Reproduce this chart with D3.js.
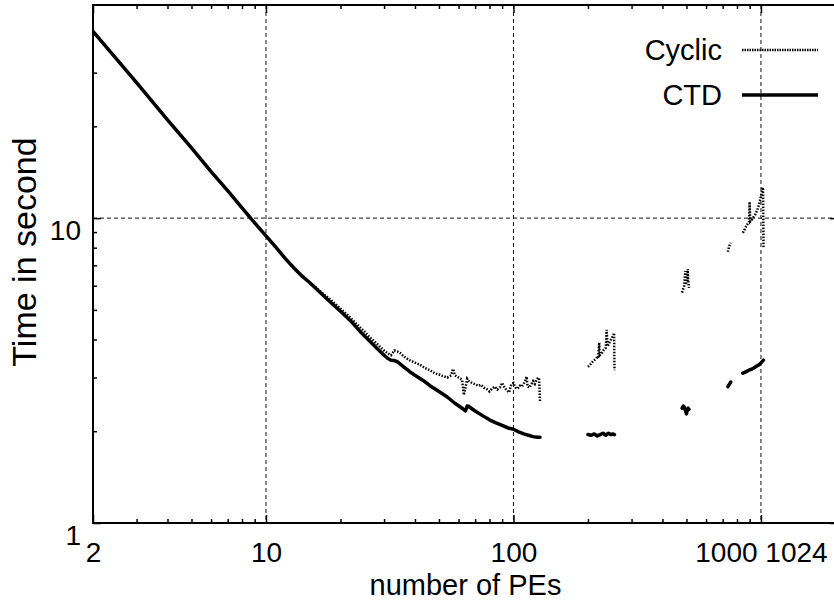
<!DOCTYPE html>
<html>
<head>
<meta charset="utf-8">
<script src="https://cdn.jsdelivr.net/npm/d3@7"></script>
<style>
  html, body { margin: 0; padding: 0; background: #fff; }
  svg { display: block; }
  text { font-family: "Liberation Sans", Arial, sans-serif; fill: #000; }
</style>
</head>
<body>
<svg id="chart" width="834" height="605"></svg>
<script>
// ---------- data ----------
const xMajorTicks = [2, 10, 100, 1000];
const xTickLabels = ["2", "10", "100", "1000 1024"];
const xMinorTicks = [3,4,5,6,7,8,9,20,30,40,50,60,70,80,90,200,300,400,500,600,700,800,900];
const yMajorTicks = [1, 10];
const yTickLabels = ["1", "10"];
const yMinorTicks = [2,3,4,5,6,7,8,9,20,30,40];
const seriesNames = ["Cyclic", "CTD"];

const ctdRuns = [
  [[2,41],[3,27.8],[4,21.0],[5,17.0],[6,14.2],[7,12.3],[8,10.8],[9,9.65],[10,8.75],[11,8.0],
   [12,7.35],[13,6.85],[14,6.45],[15,6.15],[16,5.85],[18,5.35],[20,4.95],[22,4.6],[24,4.25],
   [26,3.98],[28,3.75],[30,3.55],[31,3.47],[32,3.42],[33,3.41],[34,3.38],[36,3.25],[38,3.14],
   [40,3.05],[43,2.94],[46,2.82],[50,2.70],[54,2.59],[58,2.47],[62,2.38],[64,2.33],[65,2.42],
   [66,2.41],[70,2.33],[75,2.25],[80,2.18],[85,2.13],[90,2.09],[95,2.05],[100,2.03],[105,1.99],
   [110,1.96],[115,1.94],[120,1.92],[125,1.91],[128,1.91]],
  [[200,1.95],[206,1.94],[212,1.96],[218,1.93],[224,1.95],[230,1.97],[236,1.94],[242,1.97],
   [248,1.95],[252,1.96],[256,1.95]],
  [[480,2.38],[486,2.42],[490,2.40],[496,2.33],[500,2.28],[504,2.36],[508,2.38],[512,2.36]],
  [[735,2.8],[745,2.85],[755,2.9]],
  [[845,3.1],[860,3.12],[880,3.15],[900,3.18],[920,3.2],[940,3.23],[960,3.27],[980,3.3],
   [1000,3.35],[1024,3.42]]
];

const cyclicRuns = [
  [[2,41],[3,27.8],[4,21.0],[5,17.0],[6,14.2],[7,12.3],[8,10.8],[9,9.65],[10,8.75],[11,8.0],
   [12,7.35],[13,6.85],[14,6.45],[15,6.15],[16,5.9],[17,5.65],[18,5.45],[20,5.05],[22,4.7],
   [24,4.38],[25,4.25],[26,4.1],[28,3.88],[30,3.68],[31,3.6],[32,3.55],[33,3.68],[34,3.65],
   [35,3.6],[36,3.52],[38,3.42],[40,3.36],[42,3.3],[44,3.22],[46,3.17],[48,3.1],[50,3.07],
   [52,3.03],[54,3.0],[56,3.05],[57,3.2],[58,3.05],[60,3.0],[62,2.95],[63,2.63],[64,2.78],
   [65,2.97],[66,2.92],[68,2.88],[70,2.85],[72,2.82],[74,2.84],[76,2.78],[78,2.75],[80,2.7],
   [82,2.76],[84,2.8],[86,2.74],[88,2.78],[90,2.88],[92,2.78],[94,2.72],[96,2.68],[98,2.85],
   [100,2.88],[102,2.78],[104,2.76],[106,2.82],[108,2.8],[110,2.86],[112,2.95],[113,3.02],
   [114,2.8],[116,2.78],[118,2.85],[120,2.92],[122,2.86],[124,2.95],[126,3.0],[127,2.95],[128,2.5]],
  [[200,3.25],[205,3.32],[210,3.4],[215,3.45],[218,3.5],[220,3.48],[222,3.9],[223,3.55],
   [228,3.62],[232,3.7],[236,3.75],[238,4.3],[240,3.8],[244,3.9],[248,4.0],[252,4.1],
   [255,4.2],[256,3.17]],
  [[480,5.7],[486,5.9],[490,6.0],[494,6.7],[496,6.05],[500,6.15],[504,6.2],[506,6.8],
   [508,6.3],[512,5.9]],
  [[735,7.75],[740,7.95],[745,8.1],[750,8.2],[755,8.3]],
  [[845,8.95],[855,9.1],[865,9.3],[875,9.45],[885,9.6],[895,9.7],[900,11.3],[905,9.75],
   [920,9.9],[935,10.1],[950,10.3],[965,10.6],[980,11.0],[990,11.4],[1000,11.8],[1010,12.3],
   [1016,12.6],[1020,12.4],[1024,8.0]]
];

// ---------- layout ----------
const svg = d3.select("#chart");
const L = 93, R = 838, T = 5, B = 523;
const FONT = 29, TICKFONT = 28;

const x = d3.scaleLog().domain([2, 2048]).range([L, R]);
const y = d3.scaleLog().domain([1, 50]).range([B, T]);

svg.append("defs").append("clipPath").attr("id", "clip")
  .append("rect").attr("x", L).attr("y", T).attr("width", R - L).attr("height", B - T);

// grid
const grid = svg.append("g");
grid.selectAll("line.gx").data(xMajorTicks.filter(d => d > 2)).join("line")
  .attr("x1", d => x(d)).attr("x2", d => x(d)).attr("y1", T).attr("y2", B)
  .attr("stroke", "#111").attr("stroke-width", 1).attr("stroke-dasharray", "4,3");
grid.selectAll("line.gy").data(yMajorTicks.filter(d => d > 1)).join("line")
  .attr("x1", L).attr("x2", R).attr("y1", d => y(d)).attr("y2", d => y(d))
  .attr("stroke", "#111").attr("stroke-width", 1).attr("stroke-dasharray", "4,3");

// axes (ticks pointing inward)
function styleAxis(g) {
  g.select(".domain").remove();
  g.selectAll(".tick line").attr("stroke", "#000").attr("stroke-width", 1.5);
}
const fmtX = d => xTickLabels[xMajorTicks.indexOf(d)];
const fmtY = d => yTickLabels[yMajorTicks.indexOf(d)];

const bottom = svg.append("g").attr("transform", `translate(0,${B})`)
  .call(d3.axisBottom(x).tickValues(xMajorTicks).tickFormat(fmtX).tickSize(-8).tickPadding(19));
styleAxis(bottom);
bottom.selectAll("text").attr("font-size", TICKFONT).attr("font-family", "Liberation Sans, Arial, sans-serif");

svg.append("g").attr("transform", `translate(0,${B})`)
  .call(d3.axisBottom(x).tickValues(xMinorTicks).tickFormat("").tickSize(-4)).call(styleAxis);
svg.append("g").attr("transform", `translate(0,${T})`)
  .call(d3.axisTop(x).tickValues(xMajorTicks).tickFormat("").tickSize(-8)).call(styleAxis);
svg.append("g").attr("transform", `translate(0,${T})`)
  .call(d3.axisTop(x).tickValues(xMinorTicks).tickFormat("").tickSize(-4)).call(styleAxis);

const left = svg.append("g").attr("transform", `translate(${L},0)`)
  .call(d3.axisLeft(y).tickValues(yMajorTicks).tickFormat(fmtY).tickSize(-8).tickPadding(12));
styleAxis(left);
left.selectAll("text").attr("font-size", TICKFONT).attr("dy", "0.76em")
  .attr("font-family", "Liberation Sans, Arial, sans-serif");
svg.append("g").attr("transform", `translate(${L},0)`)
  .call(d3.axisLeft(y).tickValues(yMinorTicks).tickFormat("").tickSize(-4)).call(styleAxis);
svg.append("g").attr("transform", `translate(${R},0)`)
  .call(d3.axisRight(y).tickValues(yMajorTicks).tickFormat("").tickSize(-8)).call(styleAxis);
svg.append("g").attr("transform", `translate(${R},0)`)
  .call(d3.axisRight(y).tickValues(yMinorTicks).tickFormat("").tickSize(-4)).call(styleAxis);

// data lines
const line = d3.line().x(d => x(d[0])).y(d => y(d[1]));
const plot = svg.append("g").attr("clip-path", "url(#clip)");
plot.selectAll("path.cyc").data(cyclicRuns).join("path")
  .attr("class", "cyc").attr("d", line).attr("fill", "none")
  .attr("stroke", "#000").attr("stroke-width", 2.5).attr("stroke-dasharray", "1.5,1.5");
plot.selectAll("path.ctd").data(ctdRuns).join("path")
  .attr("class", "ctd").attr("d", line).attr("fill", "none")
  .attr("stroke", "#000").attr("stroke-width", 3.5)
  .attr("stroke-linejoin", "round").attr("stroke-linecap", "round");

// frame
svg.append("rect").attr("x", L).attr("y", T).attr("width", R - L).attr("height", B - T)
  .attr("fill", "none").attr("stroke", "#000").attr("stroke-width", 2);

// legend
const legend = svg.append("g");
const legY = [50, 95];
legend.selectAll("text").data(seriesNames).join("text")
  .attr("x", 722).attr("y", (d, i) => legY[i]).attr("dy", "0.35em")
  .attr("text-anchor", "end").attr("font-size", FONT).text(d => d);
legend.append("line").attr("x1", 742).attr("x2", 818).attr("y1", legY[0]).attr("y2", legY[0])
  .attr("stroke", "#000").attr("stroke-width", 2.5).attr("stroke-dasharray", "1.5,1");
legend.append("line").attr("x1", 742).attr("x2", 818).attr("y1", legY[1]).attr("y2", legY[1])
  .attr("stroke", "#000").attr("stroke-width", 3.5);

// axis titles
svg.append("text").attr("x", (L + R) / 2).attr("y", 595).attr("text-anchor", "middle")
  .attr("font-size", FONT).text("number of PEs");
svg.append("text").attr("transform", `translate(36,252) rotate(-90)`)
  .attr("text-anchor", "middle").attr("font-size", 34).text("Time in second");
</script>
</body>
</html>
